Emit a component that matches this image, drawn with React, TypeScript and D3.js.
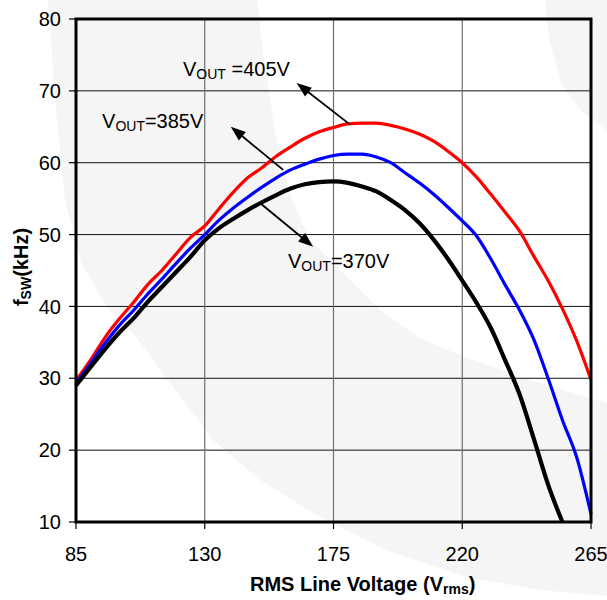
import React from "react";
import * as d3 from "d3";

// ---- data ----
const vinRed = [85, 90, 95, 100, 105, 110, 115, 120, 125, 130, 135, 140, 145, 150, 155, 160, 165, 170, 175, 180, 185, 190, 195, 200, 205, 210, 215, 220, 225, 230, 235, 240, 245, 250, 255, 260, 265];
const fswRed = [29.7, 32.5, 35.6, 38.2, 40.5, 43.0, 45.0, 47.3, 49.6, 51.2, 53.6, 55.9, 57.9, 59.3, 60.9, 62.2, 63.4, 64.3, 64.9, 65.4, 65.5, 65.5, 65.2, 64.7, 64.0, 63.0, 61.6, 60.0, 58.0, 55.6, 53.1, 50.5, 47.0, 43.6, 39.7, 35.2, 29.8];

const vinBlue = [85, 90, 95, 100, 105, 110, 115, 120, 125, 130, 135, 140, 145, 150, 155, 160, 165, 170, 175, 180, 185, 190, 195, 200, 205, 210, 215, 220, 225, 230, 235, 240, 245, 250, 255, 260, 265];
const fswBlue = [29.3, 32.0, 34.8, 37.3, 39.4, 41.7, 43.8, 46.0, 48.1, 50.0, 52.0, 53.7, 55.2, 56.6, 57.9, 59.0, 59.8, 60.5, 61.0, 61.2, 61.2, 60.8, 60.0, 58.6, 57.2, 55.6, 53.8, 51.9, 49.8, 46.6, 43.0, 39.5, 35.4, 30.0, 24.2, 19.0, 11.1];

const vinBlack = [85, 90, 95, 100, 105, 110, 115, 120, 125, 130, 135, 140, 145, 150, 155, 160, 165, 170, 175, 180, 185, 190, 195, 200, 205, 210, 215, 220, 225, 230, 235, 240, 245, 250, 255];
const fswBlack = [29.0, 31.5, 34.0, 36.3, 38.3, 40.6, 42.7, 44.8, 46.9, 49.2, 50.9, 52.2, 53.4, 54.5, 55.5, 56.4, 57.0, 57.3, 57.4, 57.2, 56.7, 56.0, 54.8, 53.4, 51.6, 49.3, 46.6, 43.6, 40.5, 37.0, 32.5, 27.8, 21.6, 15.2, 10.0];

const xTicks = [85, 130, 175, 220, 265];
const yTicks = [10, 20, 30, 40, 50, 60, 70, 80];

const seriesNames = ["405V", "385V", "370V"];
const seriesColors = ["#ff0000", "#0000ff", "#000000"];

// annotation anchors in data units
const labelText = ["=405V", "=385V", "=370V"];
const labelGap = [" ", "", ""];
const labelPos = [
  [122.4, 72.1],
  [94.1, 64.8],
  [159.1, 45.3],
];
const arrowTail = [
  [180.8, 65.3],
  [157.4, 59.0],
  [149.3, 54.4],
];
const arrowTip = [
  [162.1, 71.1],
  [139.1, 65.0],
  [167.9, 48.3],
];

// decorative watermark outline (pixel space)
const wmBand: [number, number][] = [
  [48, 0], [55, 100], [65, 200], [82, 265], [108, 308], [137, 338], [173, 387], [213, 440], [260, 480],
  [320, 517], [390, 552], [470, 578], [540, 590], [607, 596], [607, 403], [530, 380], [460, 355],
  [420, 338], [380, 310], [350, 280], [310, 240], [290, 195], [275, 130], [264, 60], [257, 0],
];
const wmRight: [number, number][] = [
  [545, 0], [549, 40], [562, 85], [582, 112], [607, 130], [607, 0],
];

const W = 607;
const H = 600;
const M = { left: 76, right: 16, top: 19, bottom: 78 };

export default function App() {
  const x = d3.scaleLinear().domain([85, 265]).range([M.left, W - M.right]);
  const y = d3.scaleLinear().domain([10, 80]).range([H - M.bottom, M.top]);

  const line = d3
    .line<[number, number]>()
    .x((d) => x(d[0]))
    .y((d) => y(d[1]))
    .curve(d3.curveMonotoneX);

  const series = [
    d3.zip(vinRed, fswRed) as [number, number][],
    d3.zip(vinBlue, fswBlue) as [number, number][],
    d3.zip(vinBlack, fswBlack) as [number, number][],
  ];
  const widths = [3.2, 3.2, 4.2];

  const font = "'Liberation Sans', Arial, Helvetica, sans-serif";
  const x0 = x(85), x1 = x(265), y0 = y(10), y1 = y(80);

  const arrow = (i: number) => {
    const tx = x(arrowTail[i][0]), ty = y(arrowTail[i][1]);
    const hx = x(arrowTip[i][0]), hy = y(arrowTip[i][1]);
    const dx = hx - tx, dy = hy - ty;
    const len = Math.hypot(dx, dy);
    const ux = dx / len, uy = dy / len;
    const L = 15, Wd = 5.5;
    const bx = hx - ux * L, by = hy - uy * L;
    const pts = [
      [hx, hy],
      [bx - uy * Wd, by + ux * Wd],
      [bx + uy * Wd, by - ux * Wd],
    ];
    return (
      <g key={"a" + i}>
        <line x1={tx} y1={ty} x2={bx + ux * 2} y2={by + uy * 2} stroke="#000" strokeWidth={1.8} />
        <polygon points={pts.map((p) => p.join(",")).join(" ")} fill="#000" />
      </g>
    );
  };

  return (
    <svg
      width={W}
      height={H}
      style={{ position: "absolute", left: 0, top: 0, background: "#fff" }}
      fontFamily={font}
    >
      <rect x={0} y={0} width={W} height={H} fill="#fff" />
      <path d={d3.line()(wmBand) + "Z"} fill="#f5f5f5" />
      <path d={d3.line()(wmRight) + "Z"} fill="#f5f5f5" />

      {/* grid */}
      {yTicks.map((t) => (
        <line key={"gy" + t} x1={x0} x2={x1} y1={y(t)} y2={y(t)} stroke="#111" strokeWidth={1} />
      ))}
      {xTicks.map((t) => (
        <line key={"gx" + t} x1={x(t)} x2={x(t)} y1={y0} y2={y1} stroke="#6e6e6e" strokeWidth={1.2} />
      ))}

      {/* ticks */}
      {yTicks.map((t) => (
        <line key={"ty" + t} x1={x0 - 7} x2={x0} y1={y(t)} y2={y(t)} stroke="#000" strokeWidth={1.2} />
      ))}
      {xTicks.map((t) => (
        <line key={"tx" + t} x1={x(t)} x2={x(t)} y1={y0} y2={y0 + 7} stroke="#000" strokeWidth={1.2} />
      ))}

      {/* curves */}
      {series.map((s, i) => (
        <path key={seriesNames[i]} d={line(s) || ""} fill="none" stroke={seriesColors[i]} strokeWidth={widths[i]} strokeLinejoin="round" />
      ))}

      {/* frame */}
      <rect x={x0} y={y1} width={x1 - x0} height={y0 - y1} fill="none" stroke="#000" strokeWidth={3} />

      {/* tick labels */}
      {yTicks.map((t) => (
        <text key={"ly" + t} x={x0 - 15} y={y(t)} dy="0.36em" textAnchor="end" fontSize={20} fill="#000">
          {t}
        </text>
      ))}
      {xTicks.map((t) => (
        <text key={"lx" + t} x={x(t)} y={y0 + 39} textAnchor="middle" fontSize={20} fill="#000">
          {t}
        </text>
      ))}

      {/* axis titles */}
      <text x={250} y={591} fontSize={20} fontWeight="bold" fill="#000">
        RMS Line Voltage (V
        <tspan fontSize={14} dy={3}>rms</tspan>
        <tspan dy={-3}>)</tspan>
      </text>
      <text transform="translate(28,267) rotate(-90)" textAnchor="middle" fontSize={20} fontWeight="bold" fill="#000">
        f<tspan fontSize={14} dy={3}>SW</tspan>
        <tspan dy={-3}>(kHz)</tspan>
      </text>

      {/* annotations */}
      {labelPos.map((p, i) => (
        <text key={"t" + i} x={x(p[0])} y={y(p[1])} fontSize={20} fill="#000">
          V<tspan fontSize={14} dy={3}>OUT</tspan>
          <tspan dy={-3}>{labelGap[i] + labelText[i]}</tspan>
        </text>
      ))}
      {labelPos.map((_, i) => arrow(i))}
    </svg>
  );
}
